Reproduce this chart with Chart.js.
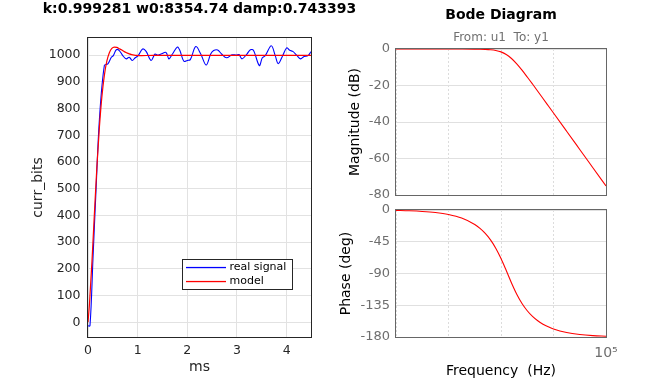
<!DOCTYPE html>
<html><head><meta charset="utf-8">
<script src="https://cdn.jsdelivr.net/npm/chart.js@4.4.1/dist/chart.umd.min.js"></script>
<style>
html,body{margin:0;padding:0;background:#fff;width:671px;height:380px;overflow:hidden}
canvas{position:absolute;left:0;top:0}
</style></head><body>
<canvas id="c1" width="399" height="380"></canvas>
<canvas id="c2" width="671" height="380"></canvas>
<canvas id="c3" width="671" height="380"></canvas>
<script>
// ---- step response panel ----
const stepTitle = 'k:0.999281 w0:8354.74 damp:0.743393';
const stepXLabel = 'ms';
const stepYLabel = 'curr_bits';
const signalLabel = 'real signal';
const modelLabel = 'model';
const signalColor = '#0000ff';
const modelColor = '#ff0000';
const signalT = [0, 0.04, 0.10, 0.16, 0.23, 0.33, 0.40, 0.47, 0.51, 0.57, 0.63, 0.70, 0.77, 0.83, 0.89, 0.95, 1.01, 1.10, 1.17, 1.27, 1.35, 1.40, 1.47, 1.57, 1.63, 1.70, 1.80, 1.85, 1.93, 2.00, 2.06, 2.17, 2.27, 2.38, 2.47, 2.53, 2.61, 2.69, 2.79, 2.90, 2.99, 3.04, 3.10, 3.20, 3.27, 3.33, 3.45, 3.51, 3.57, 3.69, 3.77, 3.83, 3.92, 4.00, 4.06, 4.13, 4.20, 4.28, 4.35, 4.43, 4.49];
const signalY = [-13, -13, 238, 489, 760, 962, 967, 992, 998, 1020, 1017, 998, 986, 992, 980, 990, 998, 1023, 1014, 980, 1004, 1000, 1004, 1010, 986, 1004, 1030, 1017, 977, 980, 983, 1032, 1004, 963, 1004, 1017, 1019, 1004, 990, 1001, 1000, 1002, 986, 1004, 1020, 1018, 961, 990, 998, 1035, 998, 968, 998, 1027, 1018, 1013, 1000, 986, 995, 998, 1013];
const modelT = [0, 0.03, 0.08, 0.13, 0.18, 0.23, 0.28, 0.33, 0.38, 0.43, 0.48, 0.53, 0.58, 0.63, 0.68, 0.73, 0.78, 0.83, 0.88, 0.93, 0.98, 1.08, 1.18, 1.50, 4.49];
const modelY = [0, 70, 228, 411, 585, 731, 845, 925, 978, 1009, 1025, 1030, 1029, 1024, 1019, 1013, 1008.5, 1004.7, 1002, 1000.2, 999.1, 998.4, 998.5, 999.3, 999.3];
const stepXTicks = [0, 1, 2, 3, 4];
const stepYTicks = [0, 100, 200, 300, 400, 500, 600, 700, 800, 900, 1000];

// ---- bode panel ----
const bodeTitle = 'Bode Diagram';
const bodeSubtitle = 'From: u1  To: y1';
const magLabel = 'Magnitude (dB)';
const phaseLabel = 'Phase (deg)';
const freqLabel = 'Frequency  (Hz)';
const bodeFreq = [10, 17.78, 31.62, 56.23, 100, 177.8, 316.2, 398.1, 501.2, 631.0, 794.3, 1000, 1259, 1585, 1995, 2512, 3162, 3981, 5012, 6310, 7943, 10000, 17783, 31623, 56234, 100000];
const bodeMag = [0, 0, -0.0005, -0.0016, -0.005, -0.018, -0.065, -0.115, -0.212, -0.407, -0.801, -1.581, -2.993, -5.207, -8.157, -11.608, -15.336, -19.202, -23.133, -27.097, -31.077, -35.065, -45.053, -55.050, -65.049, -75.048];
const bodePhase = [-0.64, -1.14, -2.03, -3.60, -6.41, -11.45, -20.54, -26.05, -33.15, -42.32, -54.09, -68.77, -85.78, -103.35, -119.29, -132.44, -142.78, -150.80, -157.00, -161.84, -165.64, -168.62, -173.62, -176.42, -177.99, -178.87];
const magTicks = [0, -20, -40, -60, -80];
const phaseTicks = [0, -45, -90, -135, -180];
const freqTicks = [10, 100, 1000, 10000, 100000];
const freqTickLabels = ['', '', '', '', '10\u2075'];

Chart.defaults.font.family = "'DejaVu Sans', sans-serif";
Chart.defaults.animation = false;

const boxPlugin = {
  id: 'box',
  afterDraw(chart, args, o) {
    const a = chart.chartArea, ctx = chart.ctx;
    ctx.save();
    ctx.strokeStyle = o.color; ctx.lineWidth = 1;
    ctx.strokeRect(Math.round(a.left) - 0.5, Math.round(a.top) - 0.5,
      Math.round(a.right) - Math.round(a.left) + 1, Math.round(a.bottom) - Math.round(a.top) + 1);
    ctx.restore();
  }
};

const legendBoxPlugin = {
  id: 'legendBox',
  afterDraw(chart, args, o) {
    if (!o.show) return;
    const ctx = chart.ctx;
    ctx.save();
    ctx.fillStyle = '#ffffff';
    ctx.fillRect(o.x, o.y, o.w, o.h);
    ctx.strokeStyle = o.border; ctx.lineWidth = 1;
    ctx.strokeRect(o.x + 0.5, o.y + 0.5, o.w, o.h);
    ctx.font = o.font; ctx.textBaseline = 'middle'; ctx.textAlign = 'left';
    const labels = [signalLabel, modelLabel];
    const colors = [signalColor, modelColor];
    for (let k = 0; k < labels.length; k++) {
      const y = Math.round(o.y + o.rowTop + k * o.rowH) + 0.5;
      ctx.fillStyle = colors[k];
      ctx.fillRect(o.x + o.lineX0, y - 0.6, o.lineX1 - o.lineX0, 1.3);
      ctx.fillStyle = o.textColor;
      ctx.fillText(labels[k], o.x + o.textX, y);
    }
    ctx.restore();
  }
};

const setTicks = arr => s => { s.ticks = arr.map(v => ({ value: v })); };
const plain = v => String(v);

// ---------- Left: step response ----------
new Chart(document.getElementById('c1'), {
  type: 'line',
  data: {
    datasets: [
      { label: signalLabel, data: signalT.map((t, i) => ({ x: t, y: signalY[i] })), borderColor: signalColor, borderWidth: 1.1, pointRadius: 0, tension: 0.35, order: 2 },
      { label: modelLabel, data: modelT.map((t, i) => ({ x: t, y: modelY[i] })), borderColor: modelColor, borderWidth: 1.2, pointRadius: 0, cubicInterpolationMode: 'monotone', order: 1 }
    ]
  },
  options: {
    responsive: false, animation: false,
    layout: { padding: { left: 0, right: 0, top: 0, bottom: 0 } },
    plugins: {
      legend: { display: false }, tooltip: { enabled: false },
      title: { display: true, text: stepTitle, color: '#000', font: { size: 14, weight: 'bold' }, padding: { top: 0.5, bottom: 20.7 } },
      box: { color: '#262626' },
      legendBox: { show: true, x: 182, y: 259, w: 110, h: 30, rowTop: 8, rowH: 14, lineX0: 4, lineX1: 44, textX: 47.5, font: "11px 'DejaVu Sans'", border: '#262626', textColor: '#000' }
    },
    scales: {
      x: {
        type: 'linear', min: 0, max: 4.49,
        afterBuildTicks: setTicks(stepXTicks),
        afterFit: s => { s.height = 43; },
        grid: { color: '#e2e2e2', drawTicks: false },
        border: { display: false },
        ticks: { color: '#262626', font: { size: 12.5 }, padding: 6, maxRotation: 0, autoSkip: false, callback: plain },
        title: { display: true, text: stepXLabel, color: '#262626', font: { size: 14 }, padding: { top: 0, bottom: 4.6 } }
      },
      y: {
        type: 'linear', min: -55, max: 1064,
        afterBuildTicks: setTicks(stepYTicks),
        afterFit: s => { s.width = 88; },
        grid: { color: '#e2e2e2', drawTicks: false },
        border: { display: false },
        ticks: { color: '#262626', font: { size: 12.5 }, padding: 7.5, autoSkip: false, callback: plain },
        title: { display: true, text: stepYLabel, color: '#262626', font: { size: 14 }, padding: { top: 29.6, bottom: 0 } }
      },
      yr: {
        position: 'right', display: true,
        afterFit: s => { s.width = 88; },
        grid: { drawOnChartArea: false, drawTicks: false },
        border: { display: false },
        ticks: { display: false }
      }
    }
  },
  plugins: [boxPlugin, legendBoxPlugin]
});

// ---------- Right top: magnitude ----------
new Chart(document.getElementById('c2'), {
  type: 'line',
  data: {
    datasets: [
      { label: 'magnitude', data: bodeFreq.map((f, i) => ({ x: f, y: bodeMag[i] })), borderColor: '#ff0000', borderWidth: 1.1, pointRadius: 0, cubicInterpolationMode: 'monotone' }
    ]
  },
  options: {
    responsive: false, animation: false,
    layout: { padding: { left: 335, right: 65, top: 0, bottom: 185 } },
    plugins: {
      legend: { display: false }, tooltip: { enabled: false },
      title: { display: true, text: bodeTitle, fullSize: false, color: '#000', font: { size: 14, weight: 'bold' }, padding: { top: 7.2, bottom: 0 } },
      subtitle: { display: true, text: bodeSubtitle, fullSize: false, color: '#707070', font: { size: 12 }, padding: { top: 7.1, bottom: 3.5 } },
      box: { color: '#666666' },
      legendBox: { show: false }
    },
    scales: {
      x: {
        type: 'logarithmic', min: 10, max: 100000,
        afterBuildTicks: setTicks(freqTicks),
        afterFit: s => { s.height = 0; },
        grid: { color: '#dcdcdc', drawTicks: false },
        border: { display: false, dash: [2, 2] },
        ticks: { display: false }
      },
      y: {
        type: 'linear', min: -80, max: 0,
        afterBuildTicks: setTicks(magTicks),
        afterFit: s => { s.width = 61; },
        grid: { color: '#e0e0e0', drawTicks: false },
        border: { display: false },
        ticks: { color: '#6e6e6e', font: { size: 13 }, padding: 6, autoSkip: false, callback: plain },
        title: { display: true, text: magLabel, color: '#000', font: { size: 14 }, padding: { top: 12.3, bottom: 0 } }
      }
    }
  },
  plugins: [boxPlugin]
});

// ---------- Right bottom: phase ----------
new Chart(document.getElementById('c3'), {
  type: 'line',
  data: {
    datasets: [
      { label: 'phase', data: bodeFreq.map((f, i) => ({ x: f, y: bodePhase[i] })), borderColor: '#ff0000', borderWidth: 1.1, pointRadius: 0, cubicInterpolationMode: 'monotone' }
    ]
  },
  options: {
    responsive: false, animation: false,
    layout: { padding: { left: 335, right: 65, top: 210, bottom: 0 } },
    plugins: {
      legend: { display: false }, tooltip: { enabled: false },
      box: { color: '#666666' },
      legendBox: { show: false }
    },
    scales: {
      x: {
        type: 'logarithmic', min: 10, max: 100000,
        afterBuildTicks: setTicks(freqTicks),
        afterFit: s => { s.height = 43; },
        grid: { color: '#dcdcdc', drawTicks: false },
        border: { display: false, dash: [2, 2] },
        ticks: { color: '#6e6e6e', font: { size: 14 }, padding: 8, maxRotation: 0, autoSkip: false, callback: (v, i) => freqTickLabels[i] },
        title: { display: true, text: freqLabel, color: '#000', font: { size: 14 }, padding: { top: 0, bottom: 0 } }
      },
      y: {
        type: 'linear', min: -180, max: 0,
        afterBuildTicks: setTicks(phaseTicks),
        afterFit: s => { s.width = 61; },
        grid: { color: '#e0e0e0', drawTicks: false },
        border: { display: false },
        ticks: { color: '#6e6e6e', font: { size: 13 }, padding: 6, autoSkip: false, callback: plain },
        title: { display: true, text: phaseLabel, color: '#000', font: { size: 14 }, padding: { top: 3.3, bottom: 0 } }
      }
    }
  },
  plugins: [boxPlugin]
});
</script>
</body></html>
